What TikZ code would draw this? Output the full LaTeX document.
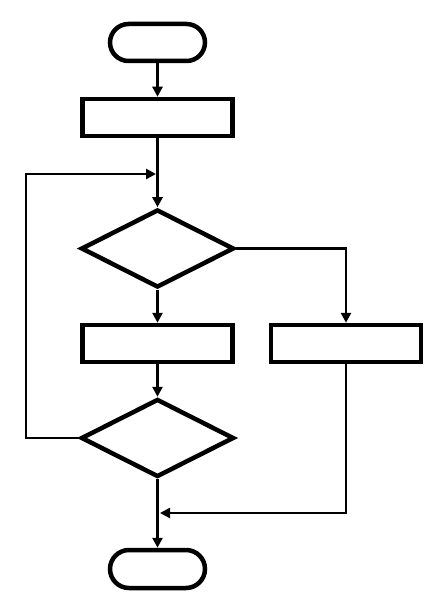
\documentclass[tikz,border=0pt]{standalone}
\usepackage{tikz}
\usetikzlibrary{arrows.meta}
\usetikzlibrary{shapes.geometric}

\begin{document}
\begin{tikzpicture}[x=1pt,y=-1pt]
	\useasboundingbox (0,0) rectangle (447,612);
	\begin{scope}[every node/.style={draw,line width=4.5pt,inner sep=0pt}]
		\node[rounded corners=18.5pt,minimum width=95pt,minimum height=37pt] (start) at (157.5,42.5) {};
		\node[minimum width=150pt,minimum height=37pt] (box1) at (157.5,117.5) {};
		\node[diamond,minimum width=153pt,minimum height=78pt] (dec1) at (157.5,248.5) {};
		\node[minimum width=150pt,minimum height=37pt] (box2) at (157.5,343.5) {};
		\node[minimum width=150pt,minimum height=37pt] (box3) at (346,343.5) {};
		\node[diamond,minimum width=153pt,minimum height=78pt] (dec2) at (157.5,438) {};
		\node[rounded corners=19pt,minimum width=95pt,minimum height=38pt] (stop) at (157.5,569) {};
	\end{scope}

	\coordinate (loop) at (26,174);
	\coordinate (join1) at (157.5,174);
	\coordinate (join2) at (157.5,513);

	\begin{scope}[>={Triangle[length=10pt,width=10pt]},
	              line width=2.5pt,
	              every edge/.style={draw=black}]
		\path (start) edge[->] (box1);
		\path (box1) edge[->] (dec1);
		\path (dec1) edge[->] (box2);
		\path (box2) edge[->] (dec2);
		\path (dec2) edge[->] (stop);
		\draw[->] (dec1.east) -| (box3.north);
		\draw[->,shorten >=1.5pt] (dec2.west) -| (loop) -- (join1);
		\draw[->,shorten >=2.5pt] (box3.south) |- (join2);
	\end{scope}
\end{tikzpicture}
\end{document}
